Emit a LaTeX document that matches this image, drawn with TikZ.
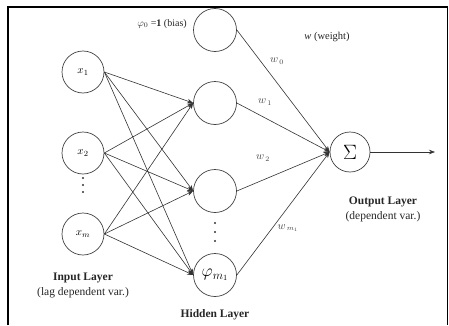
\documentclass[tikz,border=0pt]{standalone}
\usepackage{fontspec}
\setmainfont{Liberation Serif}
\usetikzlibrary{arrows.meta}
\tikzset{
  neuron/.style={circle,draw=black!75,line width=0.7pt,inner sep=0pt},
  innode/.style={neuron,minimum size=42pt,font=\fontsize{11}{12}\selectfont},
  hidnode/.style={neuron,minimum size=43pt},
  conn/.style={draw=black!80,line width=0.6pt,-{Stealth[length=6pt,width=4.5pt]}},
  dot/.style={circle,fill=black!80,inner sep=0pt,minimum size=2.4pt},
  lbl/.style={font=\fontsize{10}{11}\selectfont,text=black!85},
  wlbl/.style={font=\fontsize{10.5}{11}\selectfont,text=black!75},
  title/.style={font=\fontsize{11.5}{13}\selectfont\bfseries,text=black!85},
  sub/.style={font=\fontsize{11.5}{13}\selectfont,text=black!85}
}
\begin{document}
\begin{tikzpicture}[x=1pt,y=1pt]
\useasboundingbox (0,0) rectangle (449,325);
\draw[line width=1.3pt] (8,0) -- (8,318) -- (447.5,318) -- (447.5,0);
% input layer
\node[innode] (x1) at (83,253) {$x_1$};
\node[innode] (x2) at (83,172) {$x_2$};
\node[innode] (xm) at (83,91) {$x_m$};
\node[dot] (d1) at (83,147) {};
\node[dot] (d2) at (83,140) {};
\node[dot] (d3) at (83,133) {};
% hidden layer
\node[hidnode] (b) at (215,295) {};
\node[hidnode] (h1) at (215,222) {};
\node[hidnode] (h2) at (215,134) {};
\node[hidnode] (hm) at (215,50) {\fontsize{17}{18}\selectfont$\varphi_{m_1}$};
\node[dot] (e1) at (215,102) {};
\node[dot] (e2) at (215,93) {};
\node[dot] (e3) at (215,84) {};
% output
\node[neuron,minimum size=40pt] (s) at (350,173) {\fontsize{20}{22}\selectfont$\Sigma$};
\coordinate (out) at (435,173);
% connections input -> hidden
\foreach \i in {x1,x2,xm}{
  \foreach \j in {h1,h2,hm}{
    \draw[conn] (\i.east) -- (\j.west);
  }
}
% hidden -> output
\foreach \j in {b,h1,h2,hm}{
  \draw[conn] (\j.east) -- (s.west);
}
\draw[conn] (s.east) -- (out);
% labels
\node[lbl] (bl) at (162,301) {$\varphi_0$ =\textbf{1} (bias)};
\node[lbl,font=\fontsize{10.5}{11}\selectfont] (wl) at (327,288) {\textit{w} (weight)};
\node[wlbl] (w0) at (277,264) {$w_{\,0}$};
\node[wlbl] (w1) at (265,223) {$w_{\,1}$};
\node[wlbl] (w2) at (263,167) {$w_{\,2}$};
\node[wlbl] (wm) at (288,97) {$w_{\,m_1}$};
\node[title] (il) at (83,47) {Input Layer};
\node[sub] (ils) at (83,32) {(lag dependent var.)};
\node[title] (hl) at (215,10) {Hidden Layer};
\node[title] (ol) at (383,123) {Output Layer};
\node[sub] (ols) at (383,108) {(dependent var.)};
\end{tikzpicture}
\end{document}
